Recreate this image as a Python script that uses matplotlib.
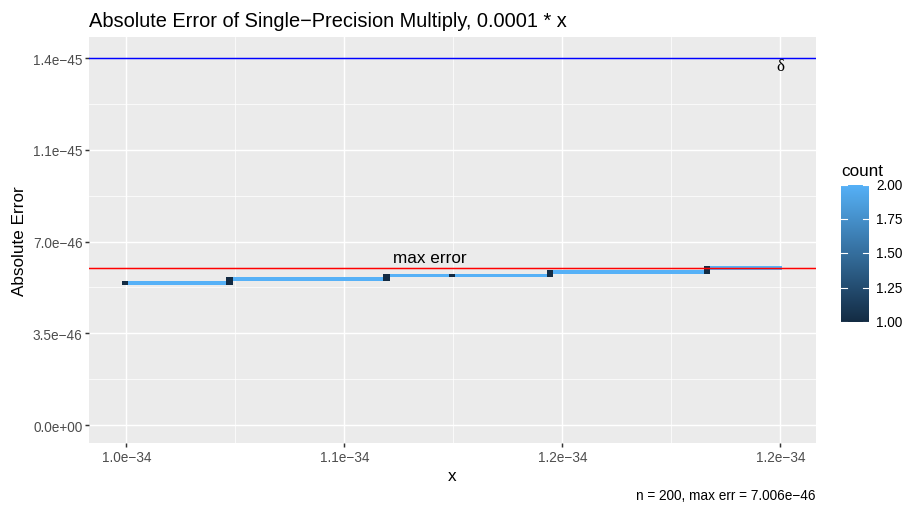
import matplotlib
matplotlib.use("Agg")
import matplotlib.pyplot as plt
import matplotlib.colors as mcolors
import numpy as np

plt.rcParams['font.family'] = ['Liberation Sans', 'DejaVu Sans']

# ---------------- data ----------------
title = "Absolute Error of Single\u2212Precision Multiply, 0.0001 * x"
x_ticks = [1.0e-34, 1.1e-34, 1.2e-34, 1.3e-34]
x_tick_labels = ["1.0e\u221234", "1.1e\u221234", "1.2e\u221234", "1.2e\u221234"]
y_ticks = [0.0, 3.5e-46, 7.0e-46, 1.05e-45, 1.4e-45]
y_tick_labels = ["0.0e+00", "3.5e\u221246", "7.0e\u221246", "1.1e\u221245", "1.4e\u221245"]

x_bin_start = 0.9978e-34
x_bin_width = 3.0e-37
err_levels = [5.42e-46, 5.565e-46, 5.71e-46, 5.855e-46, 6.0e-46]
err_bin_height = 1.45e-47

# runs of 2D-bin tiles: first x bin, number of bins, error level, count
run_bin0 = [0, 1, 16, 16, 17, 40, 40, 41, 50, 51, 65, 65, 66, 89, 89, 90]
run_nbins = [1, 15, 1, 1, 23, 1, 1, 9, 1, 14, 1, 1, 23, 1, 1, 11]
run_level = [0, 0, 0, 1, 1, 1, 2, 2, 2, 2, 2, 3, 3, 3, 4, 4]
run_count = [1, 2, 1, 1, 2, 1, 1, 2, 1, 2, 1, 1, 2, 1, 1, 2]

delta = 1.4e-45
max_err_line = 5.99e-46
max_err_label_pos = (1.139e-34, 6.22e-46)
delta_label_pos = (1.3e-34, 1.37e-45)
caption = "n = 200, max err = 7.006e\u221246"
cbar_ticks = [1.0, 1.25, 1.5, 1.75, 2.0]
cbar_labels = ["1.00", "1.25", "1.50", "1.75", "2.00"]

# ---------------- plot ----------------
S = 1.12
W, H = 907, 506
fig = plt.figure(figsize=(W / 100, H / 100), dpi=100)
ax = fig.add_axes([89 / W, 1 - 444 / H, 727 / W, 406 / H])
ax.set_facecolor("#EBEBEB")
for s in ax.spines.values():
    s.set_visible(False)

cmap = mcolors.LinearSegmentedColormap.from_list("gg", ["#132B43", "#56B1F7"])
norm = mcolors.Normalize(1, 2)

for b0, nb, lv, c in zip(run_bin0, run_nbins, run_level, run_count):
    ax.bar(x_bin_start + b0 * x_bin_width, err_bin_height,
           width=nb * x_bin_width, bottom=err_levels[lv] - err_bin_height / 2,
           align="edge", color=cmap(norm(c)), linewidth=0, zorder=3)

ax.axhline(delta, color="#0000FF", lw=1.07, zorder=4)
ax.axhline(max_err_line, color="#FF0000", lw=1.07, zorder=4)
ax.text(max_err_label_pos[0], max_err_label_pos[1], "max error", ha="center",
        va="baseline", fontsize=11 * S, zorder=5)
ax.text(delta_label_pos[0], delta_label_pos[1], "\u03b4", ha="center", va="center",
        fontsize=11 * S, family="Liberation Serif", zorder=5)

ax.set_xlim(0.9828e-34, 1.3163e-34)
ax.set_ylim(-6.87e-47, 1.481e-45)
ax.set_xticks(x_ticks)
ax.set_xticklabels(x_tick_labels)
ax.set_yticks(y_ticks)
ax.set_yticklabels(y_tick_labels)
xminor = [(a + b) / 2 for a, b in zip(x_ticks[:-1], x_ticks[1:])]
yminor = [(a + b) / 2 for a, b in zip(y_ticks[:-1], y_ticks[1:])]
ax.set_xticks(xminor, minor=True)
ax.set_yticks(yminor, minor=True)
ax.grid(True, which="major", color="white", lw=1.07, zorder=0)
ax.grid(True, which="minor", color="white", lw=0.53, zorder=0)
ax.set_axisbelow(True)
ax.tick_params(which="major", length=2.7, width=1.07, color="#333333",
               labelsize=8.8 * S, labelcolor="#4D4D4D", pad=2)
ax.tick_params(which="minor", length=0)

ax.set_xlabel("x", fontsize=11 * S, labelpad=3)
ax.set_ylabel("Absolute Error", fontsize=11 * S, labelpad=4)

fig.text(89 / W, 1 - 27.3 / H, title, fontsize=14.4, ha="left", va="baseline")
fig.text(815 / W, 1 - 496 / H, caption, fontsize=8.8 * S, ha="right", va="center")

# colorbar
cax = fig.add_axes([841 / W, 1 - 322.7 / H, 28 / W, 136.7 / H])
grad = np.linspace(1, 2, 256).reshape(-1, 1)
cax.imshow(grad, aspect="auto", cmap=cmap, norm=norm, origin="lower",
           extent=[0, 1, 1, 2])
for s in cax.spines.values():
    s.set_visible(False)
cax.set_xlim(0, 1)
cax.set_ylim(1, 2)
cax.set_xticks([])
cax.set_yticks([])
for t in cbar_ticks:
    cax.plot([0, 0.2], [t, t], color="white", lw=0.8)
    cax.plot([0.8, 1.0], [t, t], color="white", lw=0.8)
for t, lab in zip(cbar_ticks, cbar_labels):
    cax.text(1.25, t, lab, fontsize=8.8 * S, ha="left", va="center",
             transform=cax.transData, color="black")
fig.text(841 / W, 1 - 172 / H, "count", fontsize=11 * S, ha="left", va="center")

fig.savefig("out.png", dpi=100)
